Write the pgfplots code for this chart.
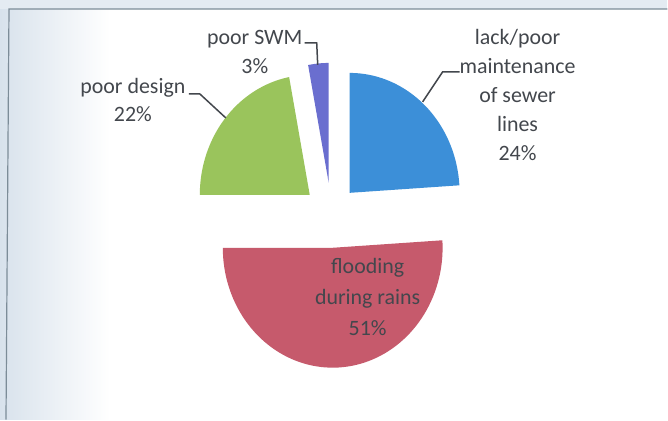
\documentclass[border=0pt]{standalone}
\usepackage{pgfplots}
\usepackage{pgfplotstable}
\pgfplotsset{compat=1.18}
\usepackage{fontspec}
\setmainfont{Carlito}

\definecolor{sliceBlue}{HTML}{3C8FD8}
\definecolor{sliceRed}{HTML}{C65A6C}
\definecolor{sliceGreen}{HTML}{9AC45C}
\definecolor{slicePurple}{HTML}{6A6ECF}
\definecolor{labelGray}{HTML}{43474D}
\definecolor{frameGray}{HTML}{7C8C98}
\definecolor{bgBlue}{HTML}{D8E2EC}

% causes of sewer problems, share in percent
\pgfplotstableread{
cause value
maintenance 24
flooding 51
design 22
swm 3
}\causes

\pgfplotstablegetelem{0}{value}\of\causes \let\vMaint\pgfplotsretval
\pgfplotstablegetelem{1}{value}\of\causes \let\vFlood\pgfplotsretval
\pgfplotstablegetelem{2}{value}\of\causes \let\vDesign\pgfplotsretval
\pgfplotstablegetelem{3}{value}\of\causes \let\vSwm\pgfplotsretval

% slice angles, clockwise from the top
\pgfmathsetmacro\aA{90}
\pgfmathsetmacro\aB{\aA-3.6*\vMaint}
\pgfmathsetmacro\aC{\aB-3.6*\vFlood}
\pgfmathsetmacro\aD{\aC-3.6*\vDesign}
\pgfmathsetmacro\aE{\aD-3.6*\vSwm}

\newcommand\rx{110}
\newcommand\ry{120}

\begin{document}
\begin{tikzpicture}
\begin{axis}[
  x=1bp, y=1bp,
  xmin=0, xmax=668, ymin=0, ymax=420,
  hide axis, clip=false,
  samples=80,
]
% page background with the faint tint on the left
\fill[white] (axis cs:0,0) rectangle (axis cs:668,420);
\shade[left color=bgBlue, right color=white] (axis cs:0,0) rectangle (axis cs:110,420);
\fill[bgBlue!70] (axis cs:0,411) rectangle (axis cs:668,420);
\draw[frameGray, line width=1.2bp] (axis cs:6,0) -- (axis cs:9,411) -- (axis cs:668,411);

% exploded slices
\addplot[fill=sliceBlue, draw=none, domain=\aB:\aA, variable=\t]
  ({350+\rx*cos(\t)}, {227+\ry*sin(\t)}) -- (axis cs:350,227) -- cycle;
\addplot[fill=sliceRed, draw=none, domain=\aC:\aB, variable=\t]
  ({333+\rx*cos(\t)}, {172+\ry*sin(\t)}) -- (axis cs:333,172) -- cycle;
\addplot[fill=sliceGreen, draw=none, domain=\aD:\aC, variable=\t]
  ({310+\rx*cos(\t)}, {225+\ry*sin(\t)}) -- (axis cs:310,225) -- cycle;
\addplot[fill=slicePurple, draw=none, domain=\aE:\aD, variable=\t]
  ({329+\rx*cos(\t)}, {237+\ry*sin(\t)}) -- (axis cs:329,237) -- cycle;

% leader lines
\draw[labelGray, line width=1.5bp] (axis cs:305,377) -- (axis cs:317,377) -- (axis cs:318,355);
\draw[labelGray, line width=1.5bp] (axis cs:189,326) -- (axis cs:200,326) -- (axis cs:226,302);
\draw[labelGray, line width=1.5bp] (axis cs:460,348) -- (axis cs:443,348) -- (axis cs:423,318);

% data labels
\node[labelGray, align=center, font=\fontsize{22}{30}\selectfont]
  at (axis cs:255,368) {poor SWM\\\vSwm\%};
\node[labelGray, align=center, font=\fontsize{22}{28}\selectfont]
  at (axis cs:133,320) {poor design\\\vDesign\%};
\node[labelGray, align=center, font=\fontsize{22}{29}\selectfont]
  at (axis cs:518,325) {lack/poor\\maintenance\\of sewer\\lines\\\vMaint\%};
\node[labelGray, align=center, font=\fontsize{22}{31}\selectfont]
  at (axis cs:368,123) {flooding\\during rains\\\vFlood\%};
\end{axis}
\end{tikzpicture}
\end{document}
